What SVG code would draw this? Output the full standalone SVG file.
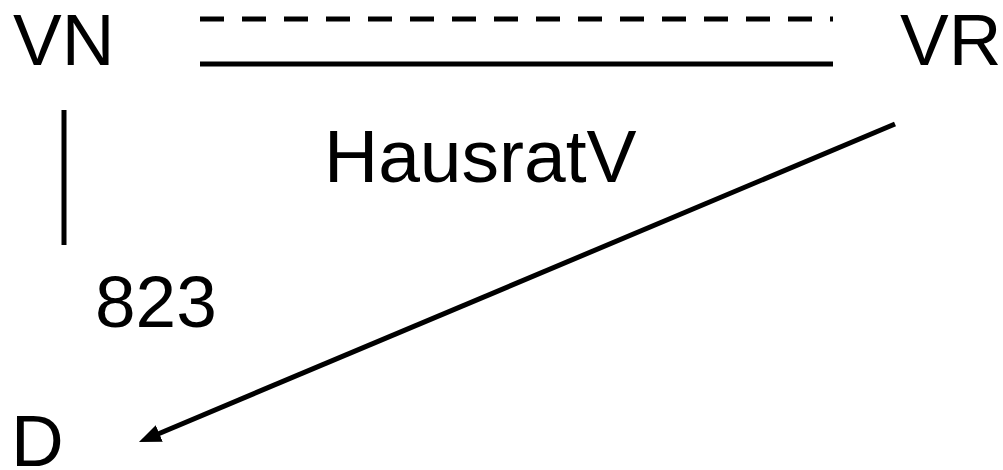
<svg xmlns="http://www.w3.org/2000/svg" width="1003" height="470" viewBox="0 0 1003 470">
<style>
text{font-family:"Liberation Sans",Arial,sans-serif;font-size:73px;fill:#000}
.ln{stroke:#000;stroke-width:5;fill:none}
</style>
<defs>
<marker id="ah" markerWidth="22" markerHeight="18" refX="2" refY="9" orient="auto" markerUnits="userSpaceOnUse">
<path d="M0,0 L22,9 L0,18 Z" fill="#000"/>
</marker>
</defs>
<rect width="1003" height="470" fill="#fff"/>
<g id="VN"><text x="13" y="65">VN</text></g>
<g id="VR"><text x="900" y="65">VR</text></g>
<g id="HausratV"><text x="324" y="182" style="font-size:75px">HausratV</text></g>
<g id="n823"><text x="95" y="327">823</text></g>
<g id="D"><text x="11" y="466">D</text></g>
<g id="connectors">
<line class="ln" x1="200" y1="19" x2="833" y2="19" stroke-dasharray="24 18"/>
<line class="ln" x1="200" y1="64" x2="833" y2="64"/>
<line class="ln" x1="64" y1="110" x2="64" y2="245"/>
<line class="ln" x1="895" y1="124" x2="157.4" y2="434.2" marker-end="url(#ah)"/>
</g>
</svg>
